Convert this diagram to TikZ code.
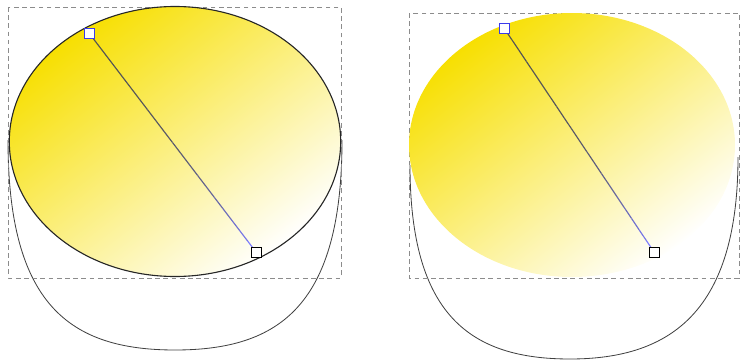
\documentclass[tikz,border=0pt]{standalone}
\usepackage{tikz}
\usetikzlibrary{calc}
\definecolor{sunyellow}{RGB}{247,223,0}
\definecolor{handleblue}{RGB}{60,60,235}
\definecolor{lineblue}{RGB}{125,125,255}
\definecolor{linegray}{RGB}{85,85,85}

\begin{document}
\begin{tikzpicture}[
  x=0.03cm, y=-0.03cm,
  bbox/.style={draw=black!45, dash pattern=on 4pt off 3pt, line width=0.5pt},
  grad/.style={top color=sunyellow, bottom color=white, shading angle=37.5},
  rim/.style={draw=black!85, line width=0.95pt},
  cup/.style={draw=black!75, line width=0.7pt},
  hbox/.style={draw, fill=white, line width=0.8pt, rectangle, minimum size=0.3cm, inner sep=0pt},
  hblue/.style={hbox, draw=handleblue}
]
\useasboundingbox (0,0) rectangle (747,363);
% Left panel
\draw[cup] (8,140) .. controls (8,305) and (70,350) .. (175,350)
  .. controls (280,350) and (342,305) .. (342,140);
\draw[bbox] (8,7) rectangle (341,278);
\path[grad, rim] (175,141.5) ellipse [x radius=165.7, y radius=135];
\coordinate (lA) at (89,33);
\coordinate (lB) at (256,252);
\foreach \i in {0,...,19} {
  \pgfmathsetmacro\p{100*(\i/19)^3}
  \draw[lineblue!\p!linegray, line width=1pt] ($(lA)!{\i/20}!(lB)$) -- ($(lA)!{(\i+1)/20}!(lB)$);
}
\node[hblue] (lhA) at (lA) {};
\node[hbox] (lhB) at (lB) {};
% Right panel
\draw[cup] (410,165) .. controls (410,315) and (470,359) .. (570,359)
  .. controls (672,359) and (738,310) .. (738,157);
\draw[bbox] (409,13) rectangle (739,278);
\shade[grad] (572,145) ellipse [x radius=163, y radius=132];
\coordinate (rA) at (504,28);
\coordinate (rB) at (654,252);
\foreach \i in {0,...,19} {
  \pgfmathsetmacro\p{100*(\i/19)^3}
  \draw[lineblue!\p!linegray, line width=1pt] ($(rA)!{\i/20}!(rB)$) -- ($(rA)!{(\i+1)/20}!(rB)$);
}
\node[hblue] (rhA) at (rA) {};
\node[hbox] (rhB) at (rB) {};
\end{tikzpicture}
\end{document}
